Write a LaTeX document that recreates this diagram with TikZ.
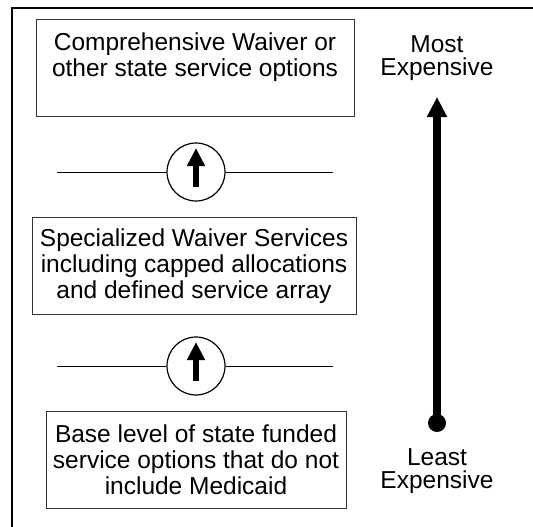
\documentclass[tikz,border=0pt]{standalone}
\usepackage{fontspec}
\setmainfont{Liberation Sans}
\usetikzlibrary{shapes, arrows.meta}
\tikzstyle{level} = [rectangle, draw=black!80, line width=1pt, align=center,
	font=\fontsize{24.5}{26}\selectfont, minimum height=97pt, inner sep=0pt]
\tikzstyle{ring} = [circle, draw, line width=1.2pt, minimum size=58pt, inner sep=0pt]
\tikzstyle{cost} = [align=center, font=\fontsize{24.5}{23}\selectfont, inner sep=0pt]
\tikzstyle{uparrow} = [line width=6pt, -{Triangle[length=18pt, width=17pt]}]

\begin{document}
\begin{tikzpicture}[x=1pt, y=-1pt]
		\useasboundingbox (0,0) rectangle (533,527);
		\draw [line width=2.5pt] (12,540) -- (12,8) -- (545,8);
		
		%Place node
		\node [level, minimum width=318pt] (comp) at (195,68) {Comprehensive Waiver or\\other state service options\\~};
		\node [ring] (ringA) at (196,172) {};
		\node [level, minimum width=324pt] (spec) at (194,266) {Specialized Waiver Services\\including capped allocations\\and defined service array};
		\node [ring] (ringB) at (196,366) {};
		\node [level, minimum width=300pt] (base) at (196,460) {Base level of state funded\\service options that do not\\include Medicaid};
		
		\node [cost] (most) at (437,58) {Most\\Expensive};
		\node [cost] (least) at (437,471) {Least\\Expensive};
		\node [circle, fill, minimum size=18pt, inner sep=0pt] (dot) at (437,423) {};
		\coordinate (top) at (437,97);
		
		\coordinate (leftA) at (57,172);
		\coordinate (rightA) at (333,172);
		\coordinate (leftB) at (57,366);
		\coordinate (rightB) at (333,366);
		
		%Draw edges
		\draw (leftA) -- (ringA);
		\draw (ringA) -- (rightA);
		\draw (leftB) -- (ringB);
		\draw (ringB) -- (rightB);
		\draw [uparrow] ([yshift=-15pt]ringA.center) -- ([yshift=24pt]ringA.center);
		\draw [uparrow] ([yshift=-15pt]ringB.center) -- ([yshift=24pt]ringB.center);
		
		\draw [line width=8pt, -{Triangle[length=20pt, width=19pt]}] (dot.center) -- (top);
		
	\end{tikzpicture}
\end{document}
